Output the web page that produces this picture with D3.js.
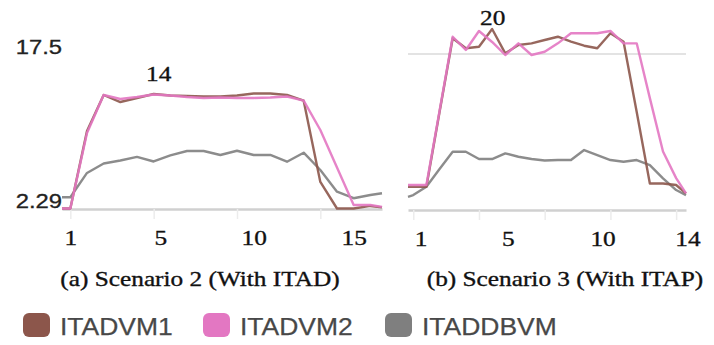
<!DOCTYPE html>
<html>
<head>
<meta charset="utf-8">
<script src="https://cdn.jsdelivr.net/npm/d3@7"></script>
<style>
  html, body { margin: 0; padding: 0; background: #fff; }
  svg { display: block; }
  .serif { font-family: "Liberation Serif", "Times New Roman", serif; fill: #111; stroke: #111; stroke-width: 0.35px; }
  .sans  { font-family: "Liberation Sans", Arial, sans-serif; }
</style>
</head>
<body>
<div id="chart"></div>
<script>
// series names and colours (d3 category10 brown / pink / grey)
const seriesNames  = ["ITADVM1", "ITADVM2", "ITADDBVM"];
const seriesColors = ["#8c564b", "#e377c2", "#7f7f7f"];

// (a) Scenario 2 — sample steps and values
const stepsA = [-0.5, 0, 1, 2, 3, 4, 5, 6, 7, 8, 9, 10, 11, 12, 13, 14, 15, 16, 17, 18, 18.7];
const vm1A   = [1.15, 1.15, 9.0, 12.64, 11.93, 12.34, 12.74, 12.59, 12.54, 12.49, 12.49, 12.59, 12.79, 12.79, 12.64, 12.07, 3.84, 1.15, 1.15, 1.41, 1.26];
const vm2A   = [1.15, 1.15, 8.8, 12.64, 12.24, 12.44, 12.69, 12.59, 12.44, 12.34, 12.39, 12.34, 12.34, 12.39, 12.49, 12.07, 9.1, 5.3, 1.51, 1.51, 1.31];
const dbA    = [2.29, 2.29, 4.75, 5.71, 6.01, 6.37, 5.91, 6.52, 6.97, 6.97, 6.57, 7.0, 6.57, 6.57, 5.89, 6.8, 5.05, 2.85, 2.19, 2.52, 2.69];
const tickMarksA  = [0, 5, 10, 15];
const tickAtA     = [0, 5.4, 11, 17];
const tickLabelsA = ["1", "5", "10", "15"];
const yLabelsA    = [17.5, 2.29];
const noteA       = { x: 5.3, y: 14.1, text: "14" };

// (b) Scenario 3 — sample steps and values
const stepsB = [-0.4, 0, 1, 2, 3, 4, 5, 6, 7, 8, 9, 10, 11, 12, 13, 14, 15, 16, 17, 18, 19, 20, 20.75];
const vm1B   = [4.06, 4.06, 4.06, 11.62, 19.09, 18.08, 18.24, 20.03, 17.57, 18.41, 18.58, 18.92, 19.25, 18.75, 18.34, 18.08, 19.6, 18.75, 11.62, 4.39, 4.39, 4.23, 3.39];
const vm2B   = [4.23, 4.23, 4.23, 11.72, 19.25, 17.91, 19.83, 18.72, 17.4, 18.58, 17.4, 17.73, 18.58, 19.6, 19.6, 19.6, 19.83, 18.58, 18.58, 13.03, 7.62, 4.93, 3.39];
const dbB    = [3.04, 3.21, 4.06, 5.85, 7.6, 7.6, 6.86, 6.86, 7.44, 7.09, 6.86, 6.71, 6.76, 6.76, 7.77, 7.27, 6.76, 6.59, 6.76, 6.25, 4.91, 3.72, 3.21];
const tickMarksB  = [0, 5, 10, 15, 20];
const tickAtB     = [0.55, 7.2, 14.4, 20.86];
const tickLabelsB = ["1", "5", "10", "14"];
const gridB       = [17.5];
const noteB       = { x: 6.05, y: 20.45, text: "20" };

const captions = ["(a) Scenario 2 (With ITAD)", "(b) Scenario 3 (With ITAP)"];

const W = 714, H = 345;
const STRETCH = 1.15;   // the figure is a little wider than its fonts

const svg = d3.select("#chart").append("svg")
  .attr("width", W)
  .attr("height", H);

function stretchText(sel, k) {
  sel.each(function() {
    const len = this.getComputedTextLength();
    d3.select(this)
      .attr("textLength", len * k)
      .attr("lengthAdjust", "spacingAndGlyphs");
  });
}

function drawPanel(p) {
  const x = d3.scaleLinear().domain(p.xDomain).range(p.xRange);
  const y = d3.scaleLinear().domain(p.yDomain).range(p.yRange);
  const g = svg.append("g");
  const base = p.yRange[0];

  // light grid lines
  g.selectAll(".grid")
    .data(p.grid)
    .join("line")
      .attr("x1", p.xRange[0])
      .attr("x2", p.xRange[1])
      .attr("y1", d => y(d))
      .attr("y2", d => y(d))
      .attr("stroke", "#e3e3e3")
      .attr("stroke-width", 2);

  // faint tick marks + axis line
  const markAxis = g.append("g")
    .attr("transform", `translate(0,${base})`)
    .call(d3.axisBottom(x).tickValues(p.tickMarks).tickFormat("").tickSize(10).tickSizeOuter(0));
  markAxis.select(".domain").attr("stroke", "#d0d0d0").attr("stroke-width", 2.5);
  markAxis.selectAll(".tick line").attr("stroke", "#ececec").attr("stroke-width", 1.5);

  // tick labels
  const labelAxis = g.append("g")
    .attr("transform", `translate(0,${base})`)
    .call(d3.axisBottom(x).tickValues(p.tickAt).tickFormat((d, i) => p.tickLabels[i]).tickSize(0));
  labelAxis.select(".domain").remove();
  labelAxis.selectAll(".tick text")
    .attr("class", "serif")
    .attr("y", 36)
    .attr("dy", null)
    .attr("font-size", 22)
    .call(stretchText, STRETCH);

  const line = d3.line()
    .x((d, i) => x(p.steps[i]))
    .y(d => y(d));

  // grey first so the VM lines sit on top of it
  const order = [2, 0, 1];
  g.selectAll(".series")
    .data(order)
    .join("path")
      .attr("fill", "none")
      .attr("stroke", i => seriesColors[i])
      .attr("stroke-width", 2.4)
      .attr("stroke-linejoin", "round")
      .attr("opacity", 0.9)
      .attr("d", i => line(p.series[i]));

  g.append("text")
    .attr("class", "serif")
    .attr("x", x(p.note.x))
    .attr("y", y(p.note.y))
    .attr("text-anchor", "middle")
    .attr("font-size", 22)
    .text(p.note.text)
    .call(stretchText, STRETCH);

  if (p.yLabels) {
    g.selectAll(".ylab")
      .data(p.yLabels)
      .join("text")
        .attr("class", "sans")
        .attr("x", 62)
        .attr("y", (d, i) => y(d) + (i === 0 ? 7 : 11))
        .attr("text-anchor", "end")
        .attr("font-size", 19.5)
        .attr("fill", "#222")
        .attr("stroke", "#222")
        .attr("stroke-width", 0.3)
        .text(d => d)
        .call(stretchText, 1.22);
  }

  g.append("text")
    .attr("class", "serif")
    .attr("x", p.captionX)
    .attr("y", 286)
    .attr("text-anchor", "middle")
    .attr("font-size", 22)
    .text(p.caption)
    .call(stretchText, STRETCH);
}

drawPanel({
  steps: stepsA,
  series: [vm1A, vm2A, dbA],
  xDomain: [-0.5, 18.7], xRange: [62, 382],
  yDomain: [1.1, 17.5],  yRange: [209, 47],
  grid: [],
  tickMarks: tickMarksA, tickAt: tickAtA, tickLabels: tickLabelsA,
  yLabels: yLabelsA,
  note: noteA,
  caption: captions[0], captionX: 200
});

drawPanel({
  steps: stepsB,
  series: [vm1B, vm2B, dbB],
  xDomain: [-0.4, 20.75], xRange: [408, 686],
  yDomain: [1.7, 17.5],   yRange: [210, 54],
  grid: gridB,
  tickMarks: tickMarksB, tickAt: tickAtB, tickLabels: tickLabelsB,
  yLabels: null,
  note: noteB,
  caption: captions[1], captionX: 565
});

// legend
const legendX = [23, 203, 385];
const legend = svg.append("g").attr("class", "legend");
const item = legend.selectAll("g")
  .data(seriesNames)
  .join("g")
    .attr("transform", (d, i) => `translate(${legendX[i]},313)`);

item.append("rect")
  .attr("width", 27)
  .attr("height", 24)
  .attr("rx", 6)
  .attr("fill", (d, i) => seriesColors[i]);

item.append("text")
  .attr("class", "sans")
  .attr("x", 37)
  .attr("y", 22)
  .attr("font-size", 23)
  .attr("fill", "#484848")
  .attr("stroke", "#484848")
  .attr("stroke-width", 0.25)
  .text(d => d)
  .call(stretchText, STRETCH);
</script>
</body>
</html>
